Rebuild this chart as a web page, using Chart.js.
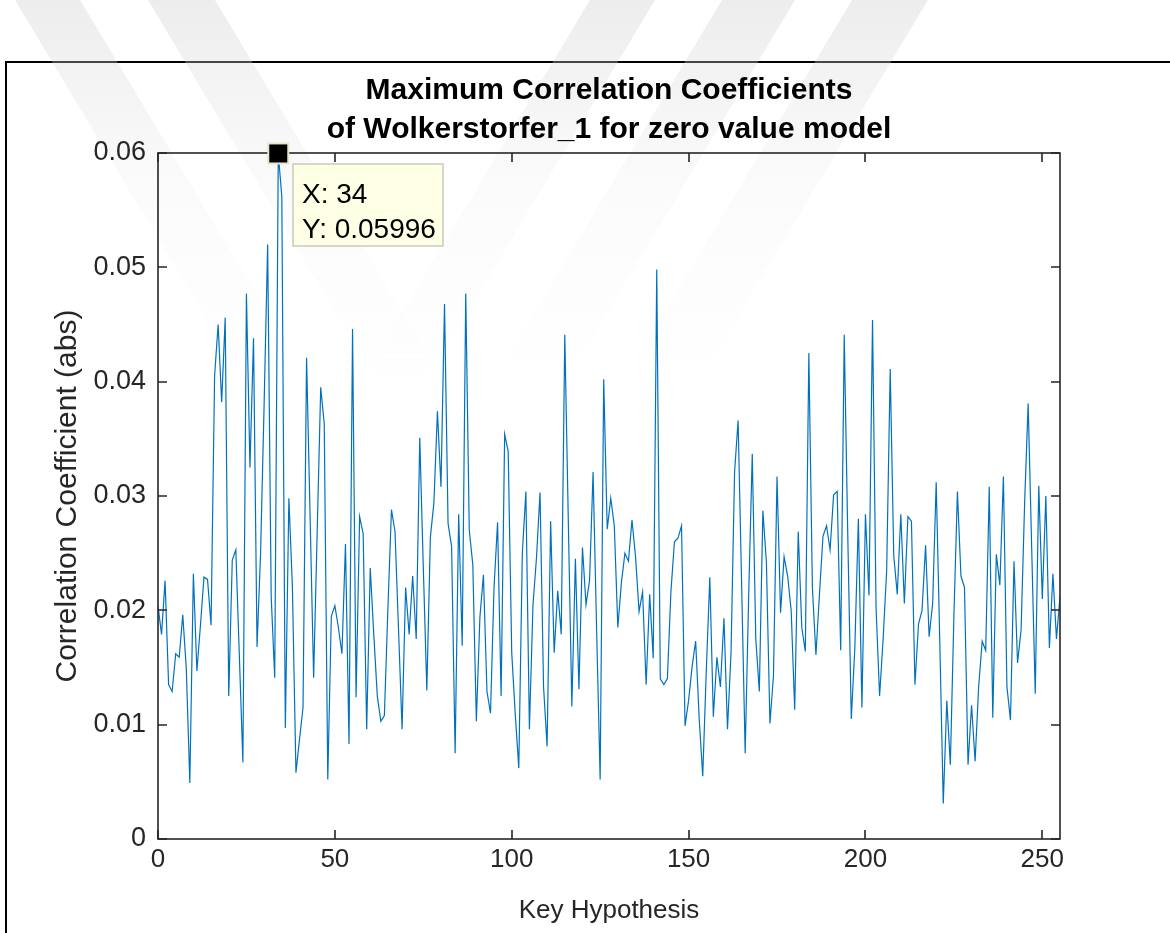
<!DOCTYPE html>
<html><head><meta charset="utf-8">
<script src="https://cdn.jsdelivr.net/npm/chart.js@4.4.1/dist/chart.umd.min.js"></script>
<style>
html,body{margin:0;padding:0;background:#fff;}
#wrap{position:relative;width:1170px;height:933px;overflow:hidden;background:#fff;}
#frame{position:absolute;left:5px;top:61px;width:1200px;height:900px;border-top:2px solid #000;border-left:2px solid #000;}
canvas{position:absolute;left:0;top:0;}
</style></head><body>
<div id="wrap"><div id="frame"></div><canvas id="c" width="1170" height="933"></canvas></div>
<script>
const correlation = [
0.0204,0.0179,0.0226,0.0135,0.0129,0.0162,0.0159,0.0196,0.0149,0.0049,
0.0232,0.0147,0.0187,0.0229,0.0227,0.0187,0.0405,0.0450,0.0382,0.0456,
0.0125,0.0244,0.0253,0.0160,0.0067,0.0477,0.0325,0.0438,0.0168,0.0250,
0.0380,0.0520,0.0212,0.0141,0.05996,0.0562,0.0097,0.0298,0.0220,0.0058,
0.0087,0.0115,0.0421,0.0282,0.0141,0.0268,0.0395,0.0363,0.0052,0.0195,
0.0204,0.0185,0.0162,0.0258,0.0083,0.0446,0.0124,0.0282,0.0267,0.0096,
0.0237,0.0179,0.0125,0.0103,0.0108,0.0202,0.0288,0.0269,0.0183,0.0096,
0.0220,0.0179,0.0230,0.0175,0.0351,0.0238,0.0130,0.0264,0.0294,0.0374,
0.0308,0.0468,0.0276,0.0256,0.0075,0.0284,0.0169,0.0477,0.0270,0.0240,
0.0103,0.0194,0.0231,0.0129,0.0110,0.0220,0.0277,0.0125,0.0354,0.0339,
0.0163,0.0109,0.0062,0.0250,0.0304,0.0096,0.0204,0.0246,0.0303,0.0133,
0.0081,0.0278,0.0163,0.0217,0.0179,0.0441,0.0278,0.0116,0.0245,0.0131,
0.0255,0.0205,0.0226,0.0321,0.0183,0.0052,0.0402,0.0271,0.0298,0.0274,
0.0185,0.0224,0.0250,0.0243,0.0279,0.0247,0.0199,0.0216,0.0135,0.0214,
0.0158,0.0498,0.0140,0.0135,0.0140,0.0216,0.0260,0.0263,0.0274,0.0099,
0.0121,0.0151,0.0173,0.0105,0.0055,0.0147,0.0229,0.0107,0.0159,0.0133,
0.0193,0.0096,0.0163,0.0321,0.0366,0.0222,0.0075,0.0214,0.0337,0.0175,
0.0129,0.0287,0.0242,0.0101,0.0143,0.0317,0.0198,0.0247,0.0230,0.0200,
0.0113,0.0269,0.0185,0.0164,0.0425,0.0220,0.0161,0.0214,0.0265,0.0274,
0.0253,0.0301,0.0304,0.0165,0.0441,0.0266,0.0105,0.0167,0.0280,0.0115,
0.0284,0.0213,0.0454,0.0202,0.0125,0.0175,0.0235,0.0411,0.0248,0.0214,
0.0284,0.0206,0.0282,0.0278,0.0135,0.0188,0.0200,0.0257,0.0177,0.0206,
0.0312,0.0175,0.0031,0.0121,0.0065,0.0194,0.0304,0.0230,0.0220,0.0065,
0.0117,0.0068,0.0133,0.0173,0.0165,0.0308,0.0106,0.0249,0.0222,0.0317,
0.0133,0.0104,0.0243,0.0154,0.0183,0.0294,0.0381,0.0254,0.0127,0.0309,
0.0210,0.0300,0.0167,0.0232,0.0175,0.0212
];
const keyHypothesis = correlation.map((_, i) => i);
const xTicks = [0, 50, 100, 150, 200, 250];
const yTicks = [0, 0.01, 0.02, 0.03, 0.04, 0.05, 0.06];
const xRange = [0, 255];
const yRange = [0, 0.06];
const titleLines = ['Maximum Correlation Coefficients', 'of Wolkerstorfer_1 for zero value model'];
const xLabel = 'Key Hypothesis';
const yLabel = 'Correlation Coefficient (abs)';
const tipIndex = 34;

const FONT = '"Liberation Sans", Arial, Helvetica, sans-serif';
const AXC = '#262626';

// faint background watermark stripes (decoration only)
const stripes = [
  {x0: 15, x1: 80, s: 0.6}, {x0: 148, x1: 215, s: 0.6},
  {x0: 590, x1: 655, s: -0.6}, {x0: 722, x1: 795, s: -0.6}, {x0: 852, x1: 928, s: -0.6}
];

const decor = {
  id: 'decor',
  beforeDraw(chart) {
    const ctx = chart.ctx;
    ctx.save();
    const H = 380;
    const g = ctx.createLinearGradient(0, 0, 0, H);
    g.addColorStop(0, 'rgba(215,215,215,0.45)');
    g.addColorStop(0.2, 'rgba(215,215,215,0.3)');
    g.addColorStop(0.5, 'rgba(215,215,215,0.1)');
    g.addColorStop(1, 'rgba(215,215,215,0)');
    ctx.fillStyle = g;
    stripes.forEach(b => {
      ctx.beginPath();
      ctx.moveTo(b.x0, 0); ctx.lineTo(b.x1, 0);
      ctx.lineTo(b.x1 + b.s * H, H); ctx.lineTo(b.x0 + b.s * H, H);
      ctx.closePath(); ctx.fill();
    });
    ctx.restore();
  },
  afterDraw(chart) {
    const ctx = chart.ctx, a = chart.chartArea;
    const xs = chart.scales.x, ys = chart.scales.y;
    ctx.save();
    ctx.strokeStyle = AXC; ctx.lineWidth = 1.6;
    ctx.strokeRect(a.left, a.top, a.right - a.left, a.bottom - a.top);
    ctx.beginPath();
    xTicks.forEach(v => {
      const px = Math.round(xs.getPixelForValue(v));
      ctx.moveTo(px, a.bottom); ctx.lineTo(px, a.bottom - 9);
      ctx.moveTo(px, a.top); ctx.lineTo(px, a.top + 9);
    });
    yTicks.forEach(v => {
      const py = Math.round(ys.getPixelForValue(v));
      ctx.moveTo(a.left, py); ctx.lineTo(a.left + 9, py);
      ctx.moveTo(a.right, py); ctx.lineTo(a.right - 9, py);
    });
    ctx.stroke();
    ctx.fillStyle = '#000';
    ctx.font = 'bold 30px ' + FONT;
    ctx.textAlign = 'center'; ctx.textBaseline = 'alphabetic';
    const cx = (a.left + a.right) / 2;
    ctx.fillText(titleLines[0], cx, 99);
    ctx.fillText(titleLines[1], cx, 138);
    ctx.fillStyle = AXC;
    ctx.font = '26px ' + FONT;
    ctx.fillText(xLabel, cx, 918);
    ctx.save();
    ctx.font = '30px ' + FONT;
    ctx.translate(76, (a.top + a.bottom) / 2);
    ctx.rotate(-Math.PI / 2);
    ctx.fillText(yLabel, 0, 0);
    ctx.restore();
    const mx = xs.getPixelForValue(keyHypothesis[tipIndex]);
    const my = ys.getPixelForValue(correlation[tipIndex]);
    ctx.fillStyle = '#e6e6c8';
    ctx.fillRect(mx - 11, my - 11, 22, 22);
    ctx.fillStyle = '#000';
    ctx.fillRect(mx - 9, my - 9, 18, 18);
    const bx = 293, by = 164, bw = 150, bh = 82;
    ctx.fillStyle = '#ffffe6';
    ctx.fillRect(bx, by, bw, bh);
    ctx.strokeStyle = '#c9c9c0'; ctx.lineWidth = 1.5;
    ctx.strokeRect(bx, by, bw, bh);
    ctx.fillStyle = '#000';
    ctx.font = '28px ' + FONT;
    ctx.textAlign = 'left';
    ctx.fillText('X: ' + keyHypothesis[tipIndex], 302, 203);
    ctx.fillText('Y: ' + correlation[tipIndex], 302, 238);
    ctx.restore();
  }
};

new Chart(document.getElementById('c'), {
  type: 'line',
  data: {
    labels: keyHypothesis,
    datasets: [{
      data: keyHypothesis.map((k, i) => ({x: k, y: correlation[i]})),
      borderColor: '#0072BD',
      borderWidth: 1.2,
      pointRadius: 0,
      tension: 0,
      fill: false
    }]
  },
  options: {
    responsive: false,
    animation: false,
    events: [],
    layout: {padding: {top: 153, right: 110, left: 0, bottom: 0}},
    plugins: {legend: {display: false}, tooltip: {enabled: false}, title: {display: false}},
    scales: {
      x: {
        type: 'linear', min: xRange[0], max: xRange[1],
        afterFit(s) { s.height = 94; },
        afterBuildTicks(s) { s.ticks = xTicks.map(v => ({value: v})); },
        grid: {display: false, drawTicks: false},
        border: {display: false},
        ticks: {padding: 5, color: AXC, font: {family: FONT, size: 26}, maxRotation: 0, callback: v => String(v)}
      },
      y: {
        type: 'linear', min: yRange[0], max: yRange[1],
        afterFit(s) { s.width = 158; },
        afterBuildTicks(s) { s.ticks = yTicks.map(v => ({value: v})); },
        grid: {display: false, drawTicks: false},
        border: {display: false},
        ticks: {padding: 12, color: AXC, font: {family: FONT, size: 27}, callback: v => String(+v.toFixed(2))}
      }
    }
  },
  plugins: [decor]
});
</script>
</body></html>
